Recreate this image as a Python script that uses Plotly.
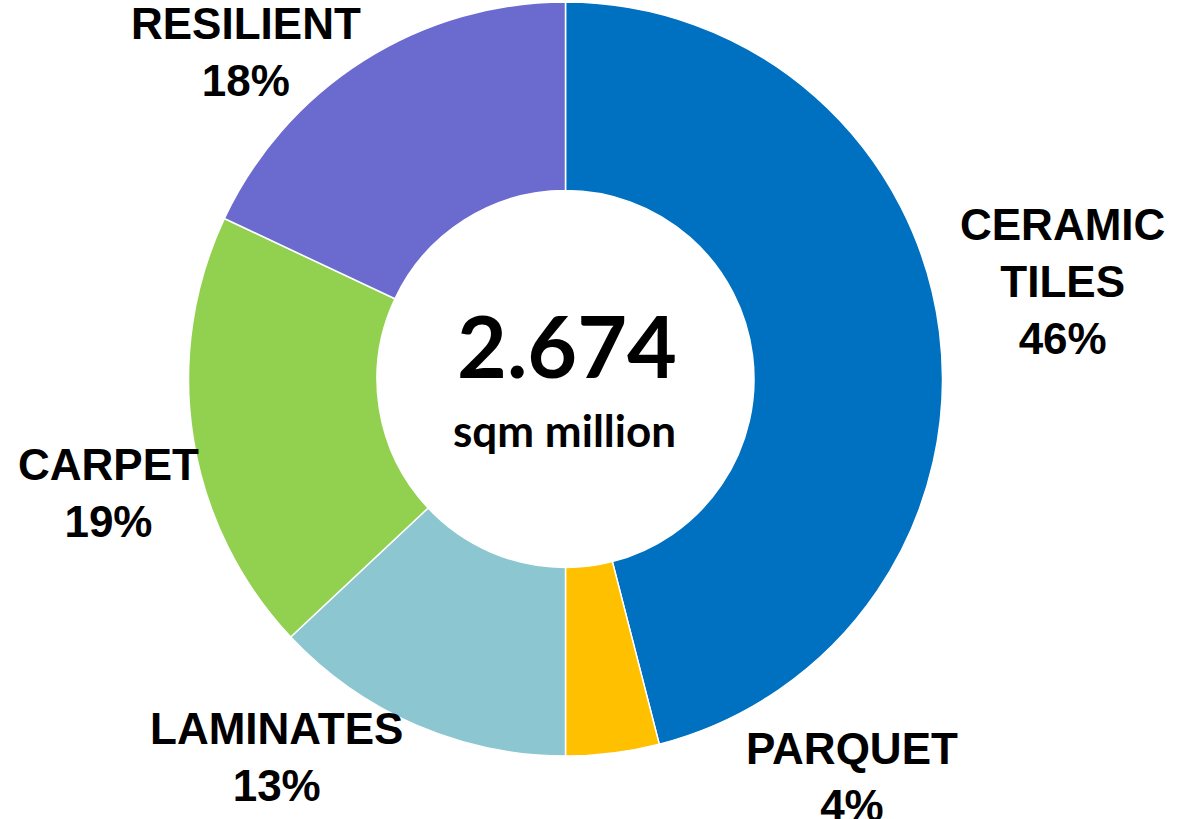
import plotly.graph_objects as go

categories = ["CERAMIC<br>TILES", "PARQUET", "LAMINATES", "CARPET", "RESILIENT"]
shares = [46, 4, 13, 19, 18]
colors = ["#0070C0", "#FFC000", "#8CC6D0", "#92D050", "#6B6BCF"]
total_value = "2.674"
total_unit = "sqm million"

W, H = 1181, 819

fig = go.Figure(go.Pie(
    labels=categories,
    values=shares,
    sort=False,
    direction="clockwise",
    rotation=0,
    hole=0.5,
    textinfo="none",
    hoverinfo="label+percent",
    marker=dict(colors=colors, line=dict(color="white", width=1.5)),
    domain=dict(x=[188.5 / W, 942.5 / W], y=[63 / H, 817 / H]),
    showlegend=False,
))

label_font = dict(family="Liberation Sans, Arial", size=44, color="black")

# outside label positions (pixel centre of each block)
label_pos = {
    "CERAMIC<br>TILES": (1062, 281),
    "PARQUET": (852, 777),
    "LAMINATES": (276, 757),
    "CARPET": (108, 493),
    "RESILIENT": (246, 52),
}

for name, val in zip(categories, shares):
    px, py = label_pos[name]
    fig.add_annotation(
        x=px / W, y=1 - py / H, xref="paper", yref="paper",
        text=f"<b>{name}<br>{val}%</b>", showarrow=False,
        font=label_font, xanchor="center", yanchor="middle",
        align="center",
    )

fig.add_annotation(
    x=567 / W, y=1 - 344 / H, xref="paper", yref="paper",
    text=f"<b>{total_value}</b>", showarrow=False,
    font=dict(family="Lato, Open Sans", size=86, color="black"),
    xanchor="center", yanchor="middle",
)
fig.add_annotation(
    x=564 / W, y=1 - 430 / H, xref="paper", yref="paper",
    text=f"<b>{total_unit}</b>", showarrow=False,
    font=dict(family="Lato, Open Sans", size=44, color="black"),
    xanchor="center", yanchor="middle",
)

fig.update_layout(
    width=W, height=H,
    margin=dict(l=0, r=0, t=0, b=0),
    paper_bgcolor="white", plot_bgcolor="white",
)

fig.write_html("out.html")
